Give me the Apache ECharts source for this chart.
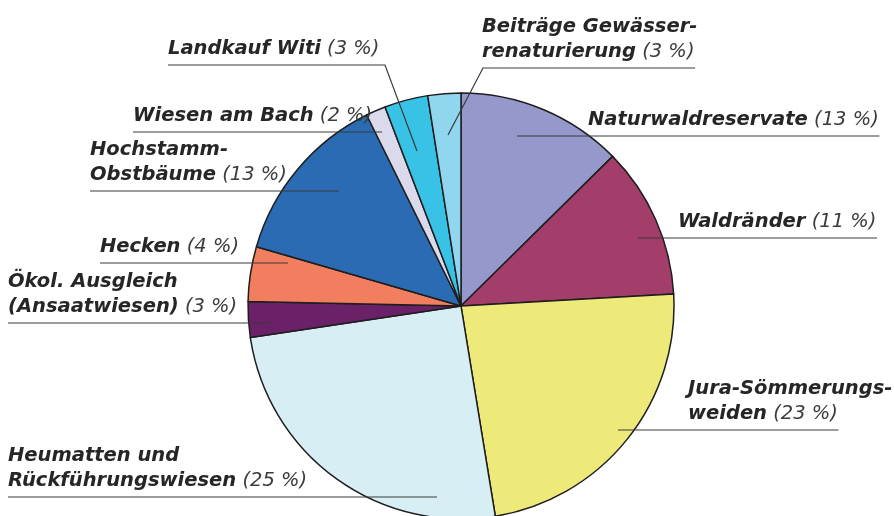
<!DOCTYPE html>
<html>
<head>
<meta charset="utf-8">
<script src="https://cdn.jsdelivr.net/npm/echarts@6/dist/echarts.min.js"></script>
<style>
  html, body { margin: 0; padding: 0; background: #fff; }
  #chart { width: 894px; height: 516px; }
</style>
</head>
<body>
<div id="chart"></div>
<script>
  // Kategorien (Reihenfolge im Uhrzeigersinn ab 12 Uhr)
  const names = [
    "Naturwaldreservate",
    "Waldränder",
    "Jura-Sömmerungs-\nweiden",
    "Heumatten und\nRückführungswiesen",
    "Ökol. Ausgleich\n(Ansaatwiesen)",
    "Hecken",
    "Hochstamm-\nObstbäume",
    "Wiesen am Bach",
    "Landkauf Witi",
    "Beiträge Gewässer-\nrenaturierung"
  ];
  // Sektorgrösse (%)
  const shares = [12.6, 11.5, 23.3, 25.2, 2.7, 4.15, 13.2, 1.5, 3.3, 2.5];
  // beschriftete Prozentwerte
  const pctLabels = [13, 11, 23, 25, 3, 4, 13, 2, 3, 3];

  const colors = ["#9598cb", "#a33d6a", "#eeea7a", "#d8eef5", "#6a2168",
                  "#f17f5f", "#2b6bb4", "#dadaec", "#37c2e6", "#90d6ef"];

  // Position der Beschriftung: x = linker Textrand, y = Unterstrich,
  // ax/ay = Endpunkt der Linie im Sektor, kx = Knick (optional)
  const labelPos = [
    { x: 588, y: 136, ax: 517, ay: 136, side: "r" },
    { x: 678, y: 238, ax: 638, ay: 238, side: "r" },
    { x: 688, y: 430, ax: 618, ay: 430, side: "r" },
    { x: 8,   y: 497, ax: 437, ay: 497, side: "l" },
    { x: 8,   y: 323, ax: 270, ay: 323, side: "l" },
    { x: 100, y: 263, ax: 288, ay: 263, side: "l" },
    { x: 90,  y: 191, ax: 339, ay: 191, side: "l" },
    { x: 133, y: 132, ax: 382, ay: 132, side: "l" },
    { x: 168, y: 65,  ax: 417, ay: 151, side: "l", kx: 385 },
    { x: 482, y: 68,  ax: 448, ay: 135, side: "r", kx: 483 }
  ];

  const font = "DejaVu Sans";
  const fs = 19.5;

  // Breite der letzten Zeile messen (Unterstrich endet dort)
  const ctx = document.createElement("canvas").getContext("2d");
  function lastLineWidth(i) {
    let lines = names[i].split("\n");
    ctx.font = "italic bold " + fs + "px '" + font + "'";
    let w = ctx.measureText(lines[lines.length - 1] + " ").width;
    ctx.font = "italic " + fs + "px '" + font + "'";
    w += ctx.measureText("(" + pctLabels[i] + " %)").width;
    return w;
  }

  let myChart = echarts.init(document.getElementById("chart"));

  myChart.setOption({
    animation: false,
    series: [
      // Kuchen
      {
        type: "pie",
        z: 2,
        center: [461, 306],
        radius: 213,
        startAngle: 90,
        silent: true,
        data: names.map((n, i) => ({
          name: n,
          value: shares[i],
          itemStyle: { color: colors[i] }
        })),
        itemStyle: {
          borderColor: "#1e1e1e",
          borderWidth: 1.5
        },
        label: { show: false },
        labelLine: { show: false }
      },
      // gleiche Sektoren transparent, nur fuer Beschriftung + Linien (liegen oben)
      {
        type: "pie",
        z: 6,
        center: [461, 306],
        radius: 213,
        startAngle: 90,
        silent: true,
        avoidLabelOverlap: false,
        data: names.map((n, i) => ({ name: n, value: shares[i] })),
        itemStyle: {
          color: "rgba(0,0,0,0)",
          borderWidth: 0
        },
        label: {
          show: true,
          position: "outer",
          alignTo: "none",
          color: "#262626",
          fontFamily: font,
          fontSize: fs,
          lineHeight: 25,
          align: "left",
          formatter: function (p) {
            let lines = p.name.split("\n");
            let out = lines.map(l => "{b|" + l + "}");
            out[out.length - 1] += "{s| }{p|(" + pctLabels[p.dataIndex] + " %)}";
            return out.join("\n");
          },
          rich: {
            b: {
              fontFamily: font,
              fontWeight: "bold",
              fontStyle: "italic",
              fontSize: fs,
              lineHeight: 25,
              color: "#262626"
            },
            s: {
              fontFamily: font,
              fontSize: fs,
              lineHeight: 25
            },
            p: {
              fontFamily: font,
              fontStyle: "italic",
              fontSize: fs,
              lineHeight: 25,
              color: "#3c3c3c"
            }
          }
        },
        labelLine: {
          show: true,
          smooth: false,
          lineStyle: { color: "#3a3a3a", width: 1.2 }
        },
        labelLayout: function (params) {
          let i = params.dataIndex;
          let c = labelPos[i];
          let end = c.side === "r" ? c.x + lastLineWidth(i) : c.x;
          let mid = c.kx != null ? [c.kx, c.y] : [(c.ax + end) / 2, c.y];
          return {
            x: c.x,
            y: c.y - 4,
            align: "left",
            verticalAlign: "bottom",
            labelLinePoints: [[c.ax, c.ay], mid, [end, c.y]]
          };
        }
      }
    ]
  });
</script>
</body>
</html>
